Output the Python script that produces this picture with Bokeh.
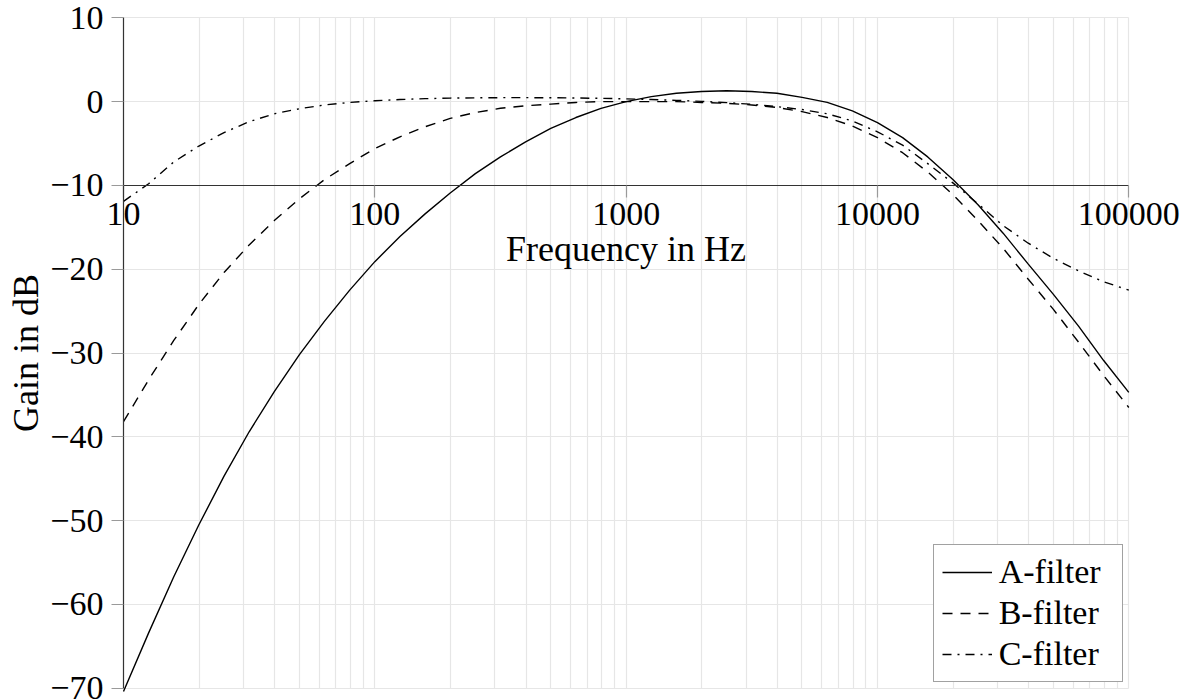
import math
from bokeh.plotting import figure
from bokeh.models import FixedTicker, Range1d
from bokeh.embed import file_html
from bokeh.resources import INLINE

# ---------------- data ----------------
freq = [10, 12.59, 15.85, 19.95, 25.12, 31.62, 39.81, 50.12, 63.10, 79.43,
        100, 125.9, 158.5, 199.5, 251.2, 316.2, 398.1, 501.2, 631.0, 794.3,
        1000, 1259, 1585, 1995, 2512, 3162, 3981, 5012, 6310, 7943,
        10000, 12589, 15849, 19953, 25119, 31623, 39811, 50119, 63096, 79433,
        100000]

a_gain = [-70.4, -63.4, -56.7, -50.5, -44.7, -39.4, -34.6, -30.2, -26.2, -22.5,
          -19.1, -16.1, -13.4, -10.9, -8.6, -6.6, -4.8, -3.2, -1.9, -0.8,
          0.0, 0.6, 1.0, 1.2, 1.3, 1.2, 1.0, 0.5, -0.1, -1.1,
          -2.5, -4.3, -6.6, -9.3, -12.3, -15.7, -19.4, -23.0, -26.8, -30.9,
          -34.7]

b_gain = [-38.2, -33.2, -28.5, -24.2, -20.4, -17.1, -14.2, -11.6, -9.3, -7.4,
          -5.6, -4.2, -3.0, -2.0, -1.3, -0.8, -0.5, -0.3, -0.1, 0.0,
          0.0, 0.0, 0.0, -0.1, -0.2, -0.4, -0.7, -1.2, -1.9, -2.9,
          -4.3, -6.1, -8.4, -11.1, -14.2, -17.5, -21.2, -24.8, -28.7, -32.7,
          -36.5]

c_gain = [-11.9, -9.8, -7.2, -5.3, -3.7, -2.4, -1.45, -0.85, -0.4, -0.1,
          0.1, 0.25, 0.35, 0.42, 0.45, 0.47, 0.47, 0.46, 0.43, 0.39,
          0.33, 0.25, 0.15, 0.03, -0.12, -0.32, -0.6, -0.95, -1.45, -2.3,
          -3.6, -5.2, -7.4, -9.7, -12.2, -14.8, -16.9, -18.7, -20.2, -21.5,
          -22.5]

x_ticks = [10, 100, 1000, 10000, 100000]
x_tick_labels = ["10", "100", "1000", "10000", "100000"]
x_minor = [m * d for d in [10, 100, 1000, 10000] for m in range(2, 10)]

y_ticks = [10, 0, -10, -20, -30, -40, -50, -60, -70]
y_tick_labels = ["10", "0", "\u221210", "\u221220", "\u221230", "\u221240",
                 "\u221250", "\u221260", "\u221270"]

x_lim = (10, 100000)
y_lim = (-70, 10)
x_axis_at = -10          # the frequency axis crosses the gain axis here
series_names = ["A-filter", "B-filter", "C-filter"]
x_title = "Frequency in Hz"
y_title = "Gain in dB"

# ---------------- layout (pixels) ----------------
W, H = 1186, 700
PX_L, PX_R = 123.0, 1128.3      # where x = 10 and x = 100000 fall
PX_T, PX_B = 17.3, 687.7        # where y = 10 and y = -70 fall

# the frame is the whole canvas; extend ranges so that the axes land
# at the wanted pixels and their labels are not clipped
lx0, lx1 = math.log10(x_lim[0]), math.log10(x_lim[1])
dec_per_px = (lx1 - lx0) / (PX_R - PX_L)
x_start = 10 ** (lx0 - PX_L * dec_per_px)
x_end = 10 ** (lx1 + (W - PX_R) * dec_per_px)
db_per_px = (y_lim[1] - y_lim[0]) / (PX_B - PX_T)
y_start = y_lim[0] - (H - PX_B) * db_per_px
y_end = y_lim[1] + PX_T * db_per_px

FONT = "Liberation Serif"
GRID = "#e6e6e6"

p = figure(width=W, height=H, x_axis_type="log",
           x_range=Range1d(x_start, x_end), y_range=Range1d(y_start, y_end),
           output_backend="svg", toolbar_location=None,
           min_border_left=0, min_border_right=0,
           min_border_top=0, min_border_bottom=0)
p.outline_line_color = None
p.background_fill_color = "white"
p.border_fill_color = "white"

xa = p.xaxis[0]
xa.fixed_location = x_axis_at
xa.bounds = x_lim
xa.ticker = FixedTicker(ticks=x_ticks, minor_ticks=x_minor)
xa.major_label_overrides = dict(zip(x_ticks, x_tick_labels))
xa.axis_label = x_title

ya = p.yaxis[0]
ya.fixed_location = x_lim[0]
ya.bounds = y_lim
ya.ticker = FixedTicker(ticks=y_ticks)
ya.major_label_overrides = dict(zip(y_ticks, y_tick_labels))
ya.axis_label = y_title

for ax in (xa, ya):
    ax.axis_line_color = "#333333"
    ax.axis_line_width = 1.2
    ax.major_tick_line_color = "#9a9a9a"
    ax.major_tick_line_width = 1.2
    ax.major_tick_in = 0
    ax.major_tick_out = 12
    ax.minor_tick_line_color = None
    ax.major_label_text_font = FONT
    ax.major_label_text_font_size = "34px"
    ax.major_label_text_color = "black"
    ax.axis_label_text_font = FONT
    ax.axis_label_text_font_size = "36px"
    ax.axis_label_text_font_style = "normal"
    ax.axis_label_text_color = "black"

xa.major_label_standoff = 6
xa.axis_label_standoff = 0
ya.major_label_standoff = 8
ya.axis_label_standoff = 1

# grid limited to the plotted area
for g, cb in ((p.xgrid[0], y_lim), (p.ygrid[0], x_lim)):
    g.grid_line_color = GRID
    g.grid_line_width = 1.2
    try:
        g.cross_bounds = cb
    except Exception:
        pass
p.xgrid.minor_grid_line_color = GRID
p.xgrid.minor_grid_line_width = 1.2
p.xgrid.bounds = x_lim
p.ygrid.bounds = y_lim

styles = [dict(line_dash="solid"), dict(line_dash="10 8"), dict(line_dash="9 6 2 6")]
for name, gains, st in zip(series_names, [a_gain, b_gain, c_gain], styles):
    p.line(freq, gains, line_color="black", line_width=1.4,
           legend_label=name, **st)

lg = p.legend[0]
lg.location = (932.7, H - 682.0)   # bottom-left corner of the legend box
lg.padding = 8
lg.spacing = 3
lg.glyph_width = 50
lg.glyph_height = 30
lg.label_standoff = 7
lg.label_width = 115
lg.label_text_font = FONT
lg.label_text_font_size = "34px"
lg.label_text_color = "black"
lg.border_line_color = "#444444"
lg.border_line_width = 1.2
lg.background_fill_color = "white"
lg.background_fill_alpha = 1.0

open("out.html", "w").write(file_html(p, INLINE))
